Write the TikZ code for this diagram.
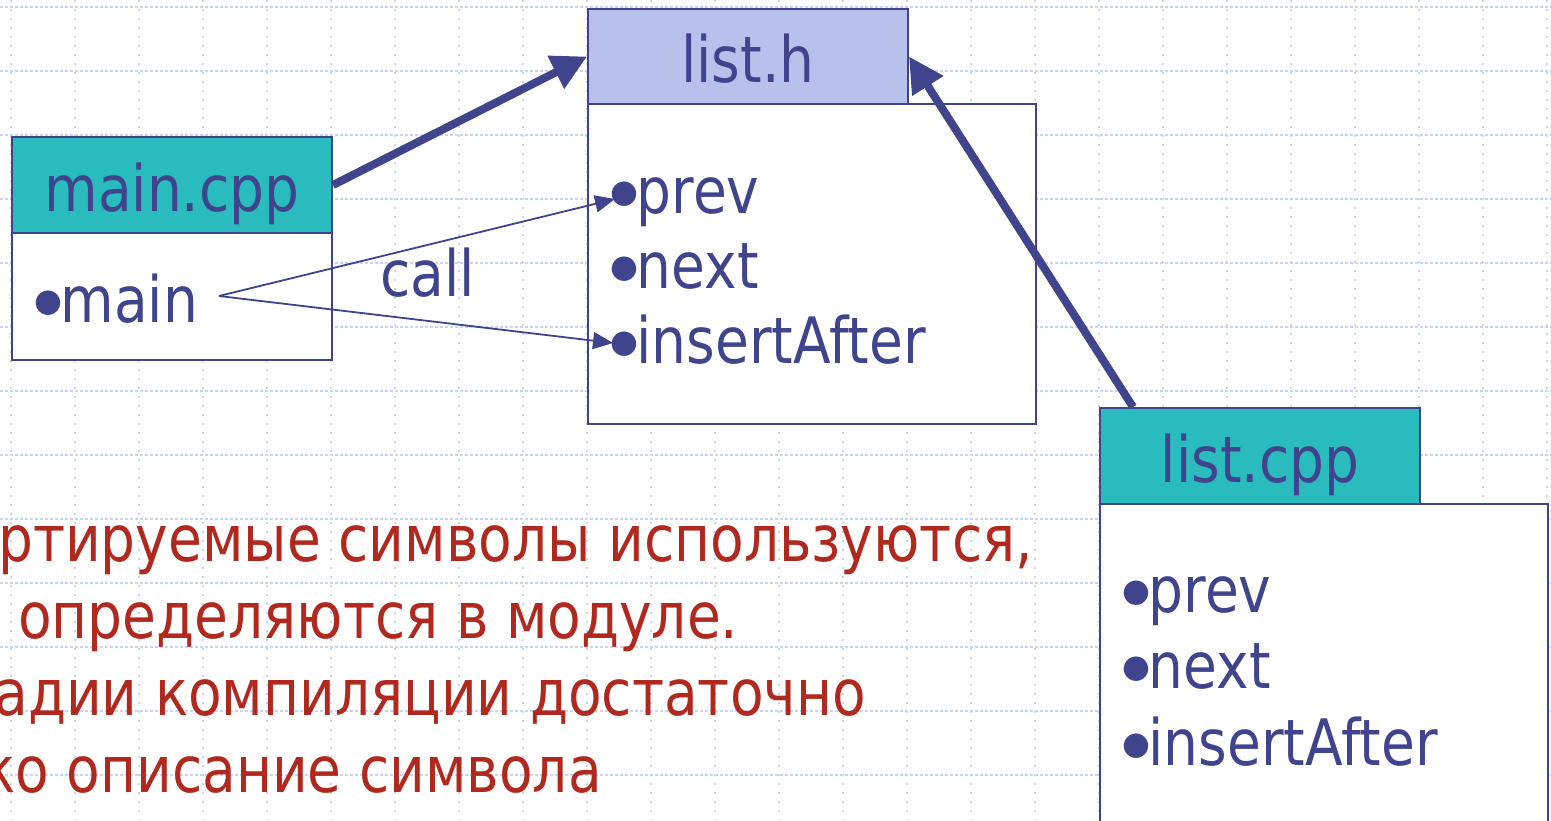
\documentclass[tikz,border=0pt]{standalone}
\usepackage{fontspec}
\setmainfont{DejaVu Sans}[FakeStretch=0.86]
\newfontfamily\bulfont{DejaVu Sans}
\usetikzlibrary{arrows.meta}
\definecolor{dkblue}{HTML}{40448C}
\definecolor{tealc}{HTML}{29BBBE}
\definecolor{lblue}{HTML}{B7C1EB}
\definecolor{redt}{HTML}{B0281E}
\definecolor{gridc}{HTML}{C8D3F5}
\newcommand\mybullet{\kern1pt{\bulfont\fontsize{32}{32}\selectfont\raisebox{10.5pt}{●}}\kern-1.5pt}
\begin{document}
\begin{tikzpicture}[x=1pt,y=-1pt,
  txt/.style={font=\fontsize{64}{77}\selectfont, text=dkblue, inner sep=0pt},
  hdr/.style={draw=dkblue, line width=2pt, minimum width=320pt, minimum height=96pt,
    inner sep=0pt, anchor=north west, text height=52pt, text depth=0pt,
    font=\fontsize{64}{77}\selectfont, text=dkblue},
  bodybox/.style={draw=dkblue, line width=1.6pt, fill=white, anchor=north west, inner sep=0pt},
  thickarrow/.style={draw=dkblue, line width=8pt, -{Triangle[length=35pt,width=35pt]}},
  thinarrow/.style={draw=dkblue, line width=1.8pt, -{Triangle[length=20pt,width=17pt]}},
  redline/.style={font=\fontsize{64}{77}\selectfont, text=redt, inner sep=0pt},
  vgrid/.style={draw=gridc, line width=1.5pt, dash pattern=on 2pt off 7pt},
  hgrid/.style={draw=gridc, line width=1.5pt, dash pattern=on 3pt off 2pt}
]
\useasboundingbox (0,0) rectangle (1551,820);
% background grid
\foreach \i in {0,...,24} \draw[vgrid] (11+64*\i,0) -- (11+64*\i,820);
\foreach \j in {0,...,12} \draw[hgrid] (0,7+64*\j) -- (1551,7+64*\j);

% boxes
\node[bodybox, minimum width=320pt, minimum height=127pt] (mainbody) at (11,232) {};
\node[hdr, fill=tealc] (mainhead) at (11,136) {main.cpp};
\node[bodybox, minimum width=448pt, minimum height=320pt] (listhbody) at (587,103) {};
\node[hdr, fill=lblue, minimum height=95pt] (listhhead) at (587,8) {list.h};
\node[bodybox, minimum width=448pt, minimum height=340pt] (lcppbody) at (1099,503) {};
\node[hdr, fill=tealc] (lcpphead) at (1099,407) {list.cpp};

% items
\node[txt, anchor=base west] (mainitem) at (33,322) {\mybullet main};
\node[txt, anchor=base west] (hprev) at (609,213) {\mybullet prev};
\node[txt, anchor=base west] (hnext) at (609,288) {\mybullet next};
\node[txt, anchor=base west] (hins) at (609,363) {\mybullet insertAfter};
\node[txt, anchor=base west] (cprev) at (1121,612) {\mybullet prev};
\node[txt, anchor=base west] (cnext) at (1121,688) {\mybullet next};
\node[txt, anchor=base west] (cins) at (1121,765) {\mybullet insertAfter};
\node[txt, anchor=base west] (call) at (380,296) {call};

% red text
\node[redline, anchor=base east] (r1) at (1033,561) {ртируемые символы используются,};
\node[redline, anchor=base west] (r2) at (18,638) {определяются в модуле.};
\node[redline, anchor=base east] (r3) at (866,715) {адии компиляции достаточно};
\node[redline, anchor=base east] (r4) at (602,792) {ко описание символа};

% connectors
\coordinate (callsrc) at (219,296);
\coordinate (prevtip) at (615,199);
\coordinate (instip) at (613,343);
\coordinate (lcppsrc) at (1133,407);
\draw[thickarrow] (mainhead.east) -- (listhhead.west);
\draw[thickarrow] (lcppsrc) -- (listhhead.east);
\draw[thinarrow] (callsrc) -- (prevtip);
\draw[thinarrow] (callsrc) -- (instip);
\end{tikzpicture}
\end{document}
